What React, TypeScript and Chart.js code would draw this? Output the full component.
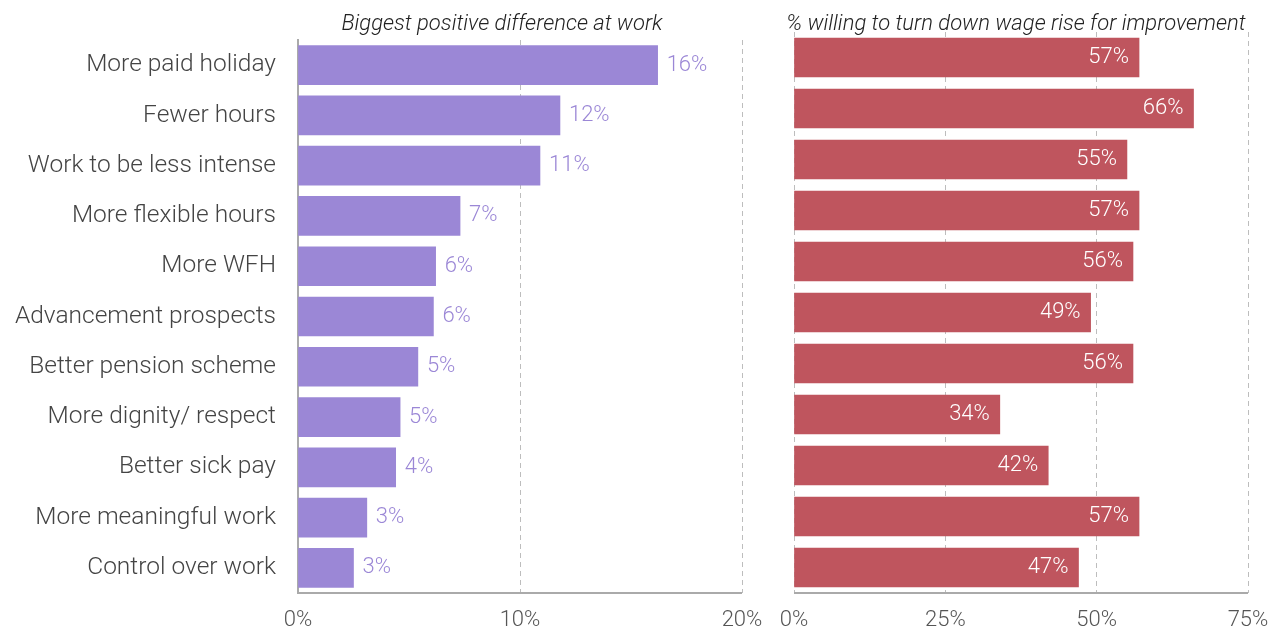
import React, { useEffect, useRef } from "react";
import { Chart, registerables } from "chart.js";

Chart.register(...registerables);

const categories = [
  "More paid holiday",
  "Fewer hours",
  "Work to be less intense",
  "More flexible hours",
  "More WFH",
  "Advancement prospects",
  "Better pension scheme",
  "More dignity/ respect",
  "Better sick pay",
  "More meaningful work",
  "Control over work",
];
const positiveDifference = [16.2, 11.8, 10.9, 7.3, 6.2, 6.1, 5.4, 4.6, 4.4, 3.1, 2.5];
const willingToTurnDown = [57, 66, 55, 57, 56, 49, 56, 34, 42, 57, 47];
const leftTicks = [0, 10, 20];
const rightTicks = [0, 25, 50, 75];
const leftTitle = "Biggest positive difference at work";
const rightTitle = "% willing to turn down wage rise for improvement";

const FONT = "Roboto";
const PURPLE = "#9b87d6";
const RED = "#bf555e";

function makeLabelPlugin(inside: boolean, color: string) {
  return {
    id: "valueLabels",
    afterDatasetsDraw(chart: any) {
      const ctx = chart.ctx;
      const meta = chart.getDatasetMeta(0);
      const data = chart.data.datasets[0].data as number[];
      ctx.save();
      ctx.font = `300 22px ${FONT}`;
      ctx.fillStyle = color;
      ctx.textBaseline = "middle";
      meta.data.forEach((bar: any, i: number) => {
        const txt = Math.round(data[i]) + "%";
        if (inside) {
          ctx.textAlign = "right";
          ctx.fillText(txt, bar.x - 10, bar.y);
        } else {
          ctx.textAlign = "left";
          ctx.fillText(txt, bar.x + 9, bar.y);
        }
      });
      ctx.restore();
    },
  };
}

function makeTitlePlugin(text: string, shift: number) {
  return {
    id: "panelTitle",
    afterDraw(chart: any) {
      const ctx = chart.ctx;
      const a = chart.chartArea;
      ctx.save();
      ctx.font = `italic 300 22px ${FONT}`;
      ctx.fillStyle = "#222";
      ctx.textAlign = "center";
      ctx.textBaseline = "middle";
      ctx.fillText(text, (a.left + a.right) / 2 + shift, 24);
      ctx.restore();
    },
  };
}

// solid bottom axis line drawn over the dashed grid
const bottomAxisPlugin = {
  id: "bottomAxis",
  afterDatasetsDraw(chart: any) {
    const ctx = chart.ctx;
    const a = chart.chartArea;
    ctx.save();
    ctx.strokeStyle = "#aaaaaa";
    ctx.lineWidth = 2;
    ctx.setLineDash([]);
    ctx.beginPath();
    ctx.moveTo(a.left, a.bottom);
    ctx.lineTo(a.right, a.bottom);
    ctx.stroke();
    ctx.restore();
  },
};

function buildConfig(
  values: number[],
  color: string,
  ticks: number[],
  max: number,
  showLabels: boolean,
  padding: any,
  yWidth: number,
  plugins: any[]
): any {
  return {
    type: "bar",
    data: {
      labels: categories,
      datasets: [
        {
          data: values,
          backgroundColor: color,
          borderWidth: 0,
          barThickness: 39,
        },
      ],
    },
    options: {
      indexAxis: "y",
      animation: false,
      responsive: false,
      maintainAspectRatio: false,
      layout: { padding },
      plugins: {
        legend: { display: false },
        title: { display: false },
        tooltip: { enabled: false },
      },
      scales: {
        x: {
          min: 0,
          max,
          afterBuildTicks(scale: any) {
            scale.ticks = ticks.map((v) => ({ value: v }));
          },
          afterFit(scale: any) {
            scale.height = 36;
            scale.paddingLeft = 0;
            scale.paddingRight = 0;
          },
          grid: {
            display: true,
            drawTicks: false,
            color: "#bdbdbd",
            lineWidth: 1,
          },
          border: { display: false, dash: [5, 4] },
          ticks: {
            padding: 14,
            color: "#555",
            font: { family: FONT, size: 22, weight: "300" },
            callback: (v: any) => v + "%",
            maxRotation: 0,
          },
        },
        y: {
          afterFit(scale: any) {
            scale.width = yWidth;
            scale.paddingTop = 0;
            scale.paddingBottom = 0;
          },
          grid: { display: false, drawTicks: false },
          border: { display: showLabels, color: "#aaaaaa", width: 2 },
          ticks: {
            display: showLabels,
            padding: 22,
            color: "#444",
            font: { family: FONT, size: 24.5, weight: "300" },
          },
        },
      },
    },
    plugins,
  };
}

function Panel(props: { left: number; width: number; config: any }) {
  const ref = useRef<HTMLCanvasElement>(null);
  useEffect(() => {
    if (!ref.current) return;
    const chart = new Chart(ref.current, props.config);
    return () => chart.destroy();
  }, []);
  return (
    <canvas
      ref={ref}
      width={props.width}
      height={629}
      style={{
        position: "absolute",
        left: props.left,
        top: 0,
        width: props.width,
        height: 629,
      }}
    />
  );
}

export default function App() {
  const leftCfg = buildConfig(
    positiveDifference,
    PURPLE,
    leftTicks,
    20,
    true,
    { top: 40, right: 38, bottom: 0, left: 0 },
    298,
    [makeLabelPlugin(false, PURPLE), makeTitlePlugin(leftTitle, -18), bottomAxisPlugin]
  );
  const rightCfg = buildConfig(
    willingToTurnDown,
    RED,
    rightTicks,
    75,
    false,
    { top: 32, right: 23, bottom: 0, left: 0 },
    34,
    [makeLabelPlugin(true, "#ffffff"), makeTitlePlugin(rightTitle, -5), bottomAxisPlugin]
  );
  return (
    <div
      style={{
        position: "fixed",
        left: 0,
        top: 0,
        width: 1271,
        height: 629,
        background: "#fff",
      }}
    >
      <Panel left={0} width={780} config={leftCfg} />
      <Panel left={760} width={511} config={rightCfg} />
    </div>
  );
}
